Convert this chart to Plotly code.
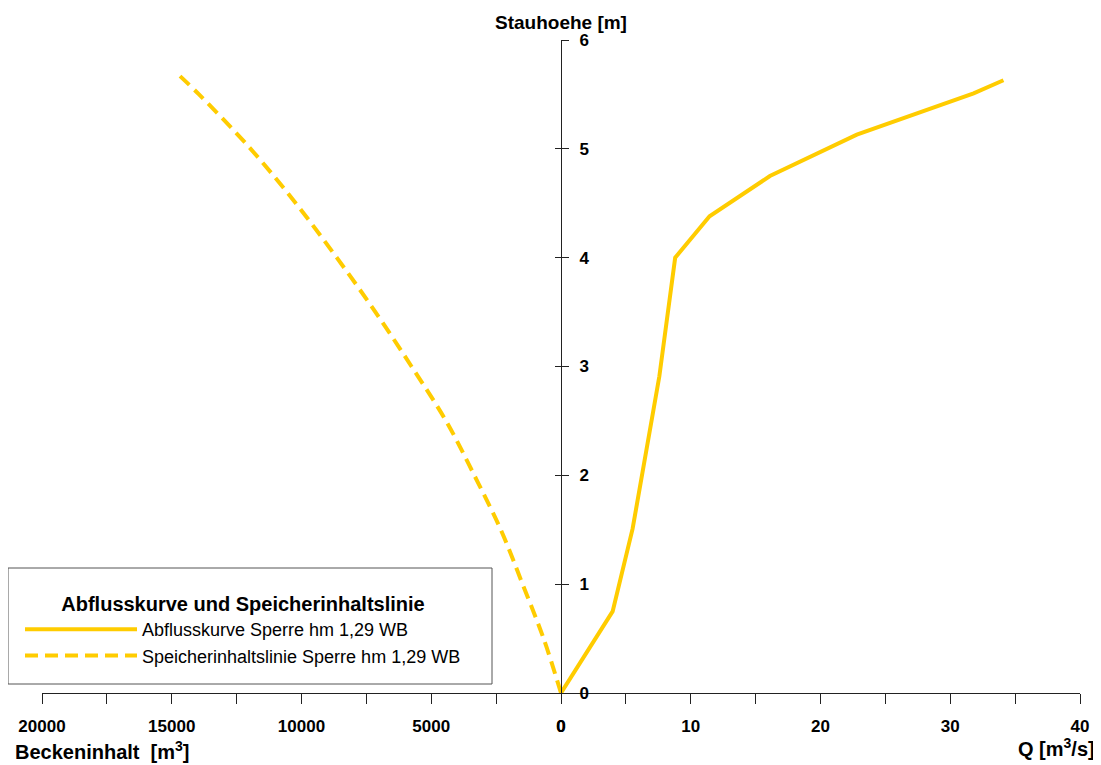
import plotly.graph_objects as go

# Abflusskurve (discharge curve): Q [m3/s] vs Stauhoehe [m]
q_abfluss = [0, 3.98, 5.52, 6.6, 7.58, 8.8, 11.45, 16.1, 22.8, 31.8, 34.1]
h_abfluss = [0, 0.75, 1.51, 2.23, 2.91, 4.0, 4.38, 4.75, 5.13, 5.51, 5.63]

# Speicherinhaltslinie (storage curve): Beckeninhalt [m3] vs Stauhoehe [m]
v_speicher = [0, 670, 1480, 2320, 3340, 4430, 5760, 7150, 8640, 10220, 11960, 13950, 14870]
h_speicher = [0, 0.5, 1.0, 1.5, 2.0, 2.5, 3.0, 3.5, 4.0, 4.5, 5.0, 5.5, 5.71]

name_abfluss = "Abflusskurve Sperre hm 1,29 WB"
name_speicher = "Speicherinhaltslinie Sperre hm 1,29 WB"
legend_title = "Abflusskurve und Speicherinhaltslinie"

left_ticks = [20000, 15000, 10000, 5000, 0]
right_ticks = [0, 10, 20, 30, 40]
y_ticks = [0, 1, 2, 3, 4, 5, 6]

FONT = "Liberation Sans, Arial, sans-serif"
GOLD = "#FFCC00"
AX = "#222222"

OFF = 8  # page body margin
W, H = 1101 - OFF, 765 - OFF
ML, MR, MT, MB = 42 - OFF, 1101 - OFF - (1080 - OFF), 40 - OFF, (765 - OFF) - (693 - OFF)
PW, PH = W - ML - MR, H - MT - MB


def px_to_paper_x(px):
    return (px - OFF - ML) / PW


def px_to_paper_y(py):
    return (H - MB - (py - OFF)) / PH


fig = go.Figure()
fig.add_trace(go.Scatter(
    x=q_abfluss, y=h_abfluss, xaxis="x2", yaxis="y", mode="lines",
    name=name_abfluss, line=dict(color=GOLD, width=4),
))
fig.add_trace(go.Scatter(
    x=v_speicher, y=h_speicher, xaxis="x", yaxis="y2", mode="lines",
    name=name_speicher, line=dict(color=GOLD, width=4, dash="13px,7px", shape="spline"),
))

tickfont = dict(family=FONT, size=17, color="black", weight="bold")

fig.update_layout(
    width=W, height=H,
    margin=dict(l=ML, r=MR, t=MT, b=MB, autoexpand=False),
    paper_bgcolor="white", plot_bgcolor="white",
    font=dict(family=FONT, color="black"),
    xaxis=dict(
        domain=[0, 0.5], range=[20000, 0], anchor="y",
        tickvals=left_ticks, ticktext=[str(v) for v in left_ticks],
        ticks="outside", ticklen=10, tickcolor=AX, tickwidth=1,
        minor=dict(dtick=2500, ticks="outside", ticklen=10, tickcolor=AX, tickwidth=1),
        showline=True, linecolor=AX, linewidth=1,
        showgrid=False, zeroline=False, tickfont=tickfont, ticklabelstandoff=8,
    ),
    xaxis2=dict(
        domain=[0.5, 1], range=[0, 40], anchor="y",
        tickvals=right_ticks, ticks="outside", ticklen=10, tickcolor=AX, tickwidth=1,
        minor=dict(dtick=5, ticks="outside", ticklen=10, tickcolor=AX, tickwidth=1),
        showline=True, linecolor=AX, linewidth=1,
        showgrid=False, zeroline=False, tickfont=tickfont, ticklabelstandoff=8,
    ),
    yaxis=dict(
        range=[0, 6], anchor="free", position=0.5, side="right",
        tickvals=y_ticks, ticks="outside", ticklen=7, tickcolor=AX, tickwidth=1,
        showline=True, linecolor=AX, linewidth=1,
        showgrid=False, zeroline=False, tickfont=tickfont, ticklabelstandoff=7,
    ),
    yaxis2=dict(
        range=[0, 6], anchor="free", position=0.5, side="right", overlaying="y",
        tickvals=y_ticks, ticks="inside", ticklen=6, tickcolor=AX, tickwidth=1,
        showticklabels=False, showline=False, showgrid=False, zeroline=False,
    ),
    legend=dict(
        xref="container", yref="container",
        x=(20 - OFF) / W, y=1 - (585 - OFF) / H, xanchor="left", yanchor="top",
        bgcolor="rgba(0,0,0,0)", borderwidth=0,
        font=dict(family=FONT, size=18, color="black"),
        title=dict(text="<b>" + legend_title + "</b>", side="top center",
                   font=dict(family=FONT, size=20, color="black")),
        itemwidth=112, traceorder="normal",
    ),
    showlegend=True,
    shapes=[
        dict(type="rect", xref="paper", yref="paper",
             x0=px_to_paper_x(8), x1=px_to_paper_x(492),
             y0=px_to_paper_y(684), y1=px_to_paper_y(568),
             line=dict(color="#555555", width=1), fillcolor="white", layer="below"),
    ],
    annotations=[
        dict(text="<b>Stauhoehe [m]</b>", xref="paper", yref="paper", x=0.5, y=1,
             xanchor="center", yanchor="middle", yshift=18, showarrow=False,
             font=dict(family=FONT, size=19, color="black")),
        dict(text="<b>Beckeninhalt  [m<sup>3</sup>]</b>", xref="paper", yref="paper",
             x=0, y=0, xanchor="left", yanchor="middle", xshift=-29, yshift=-57, showarrow=False,
             font=dict(family=FONT, size=20, color="black")),
        dict(text="<b>Q [m<sup>3</sup>/s]</b>", xref="paper", yref="paper",
             x=1, y=0, xanchor="right", yanchor="middle", xshift=17, yshift=-54, showarrow=False,
             font=dict(family=FONT, size=20, color="black")),
    ],
)

fig.write_html("out.html")
